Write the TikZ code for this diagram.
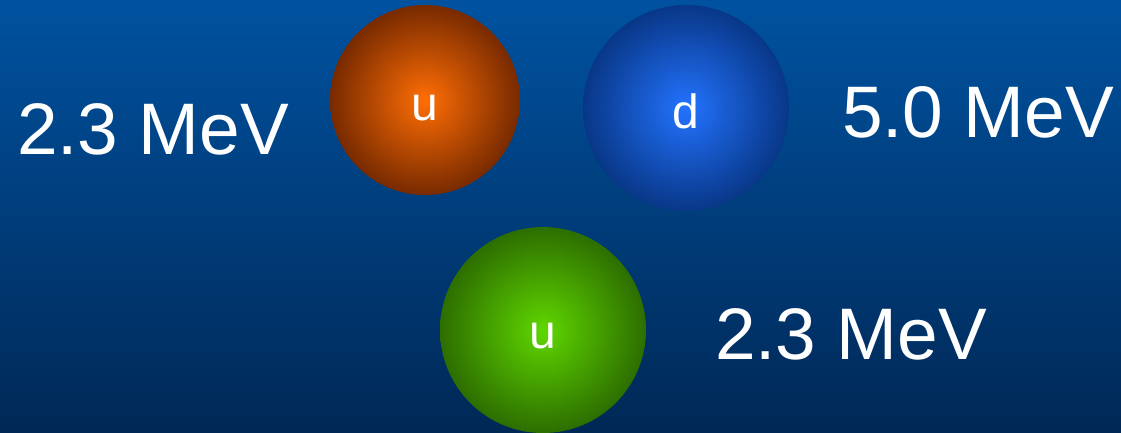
\documentclass[tikz,border=0pt]{standalone}
\usepackage{fontspec}
\setmainfont{Liberation Sans}
\definecolor{bgtop}{RGB}{0,82,160}
\definecolor{bgbot}{RGB}{0,40,86}
\definecolor{orin}{RGB}{255,110,5}
\definecolor{orout}{RGB}{120,42,0}
\definecolor{blin}{RGB}{35,115,255}
\definecolor{blout}{RGB}{8,55,135}
\definecolor{grin}{RGB}{95,215,0}
\definecolor{grout}{RGB}{45,110,0}
\begin{document}
\begin{tikzpicture}[x=1pt,y=-1pt,
  ball/.style={circle,minimum size=#1,inner sep=0pt,shading=radial},
  qlabel/.style={text=white,font=\fontsize{48}{48}\selectfont,anchor=base,inner sep=0pt},
  mass/.style={text=white,font=\fontsize{73}{73}\selectfont,anchor=base,inner sep=0pt}]
\shade[top color=bgtop,bottom color=bgbot] (0,0) rectangle (1121,432);
\useasboundingbox (0,0) rectangle (1121,432);
\node[ball=190pt,inner color=orin,outer color=orout] (uo) at (425,100) {};
\node[ball=206pt,inner color=blin,outer color=blout] (db) at (686,108) {};
\node[ball=206pt,inner color=grin,outer color=grout] (ug) at (543,330) {};
\node[qlabel] (luo) at (425,120) {u};
\node[qlabel] (ldb) at (686,128) {d};
\node[qlabel] (lug) at (543,348) {u};
\node[mass] (m1) at (153,154) {2.3 MeV};
\node[mass] (m2) at (978,137) {5.0 MeV};
\node[mass] (m3) at (851,359) {2.3 MeV};
\end{tikzpicture}
\end{document}
